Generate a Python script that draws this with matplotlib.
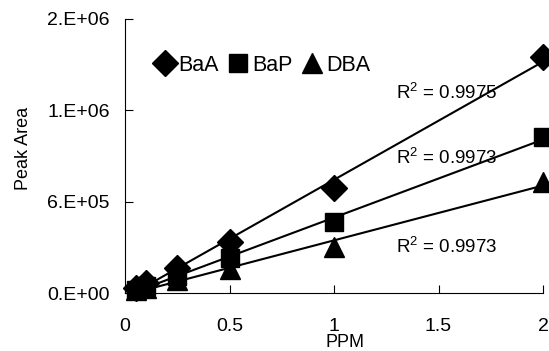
import matplotlib.pyplot as plt
import numpy as np

plt.rcParams['font.family'] = ['Liberation Sans', 'DejaVu Sans']
plt.rcParams['mathtext.default'] = 'regular'

ppm = [0.05, 0.1, 0.25, 0.5, 1.0, 2.0]
baa = [3.3e4, 6.6e4, 1.64e5, 3.35e5, 6.9e5, 1.55e6]
bap = [2.3e4, 4.6e4, 1.12e5, 2.3e5, 4.66e5, 1.025e6]
dba = [1.7e4, 3.5e4, 8.5e4, 1.55e5, 3.0e5, 7.3e5]
r2_labels = ['R$^2$ = 0.9975', 'R$^2$ = 0.9973', 'R$^2$ = 0.9973']

y_ticks = [0, 6e5, 1.2e6, 1.8e6]
y_ticklabels = ['0.E+00', '6.E+05', '1.E+06', '2.E+06']
x_ticks = [0, 0.5, 1, 1.5, 2]
x_ticklabels = ['0', '0.5', '1', '1.5', '2']


def main():
    fig = plt.figure(figsize=(5.49, 3.51), dpi=100)
    ax = fig.add_axes([0.228, 0.165, 0.761, 0.781])

    series = [('BaA', baa, 'D', 13), ('BaP', bap, 's', 13), ('DBA', dba, '^', 15)]
    x = np.array(ppm)
    xs = np.linspace(0.05, 2.0, 10)
    for name, vals, mk, ms in series:
        ax.plot(x, vals, linestyle='none', marker=mk, markersize=ms,
                color='black', label=name, clip_on=False, zorder=3)
        k, b = np.polyfit(x, vals, 1)
        ax.plot(xs, k * xs + b, color='black', linewidth=1.5, zorder=2)

    ax.text(1.297, 1.314e6, r2_labels[0], fontsize=13.5, va='center')
    ax.text(1.297, 8.87e5, r2_labels[1], fontsize=13.5, va='center')
    ax.text(1.297, 3.02e5, r2_labels[2], fontsize=13.5, va='center')

    ax.set_xlim(0, 2)
    ax.set_ylim(0, 1.8e6)
    ax.set_xticks(x_ticks)
    ax.set_xticklabels(x_ticklabels)
    ax.set_yticks(y_ticks)
    ax.set_yticklabels(y_ticklabels)
    ax.tick_params(direction='in', length=6, labelsize=14, pad=18)
    ax.tick_params(axis='y', pad=11)
    for s in ['top', 'right']:
        ax.spines[s].set_visible(False)

    ax.set_xlabel('PPM', fontsize=13)
    ax.xaxis.set_label_coords(0.526, -0.148)
    ax.set_ylabel('Peak Area', fontsize=13)
    ax.yaxis.set_label_coords(-0.222, 0.526)

    ax.legend(loc='center left', bbox_to_anchor=(0.048, 0.832), ncol=3, frameon=False,
              fontsize=15.5, handlelength=1.0, handletextpad=0.15,
              columnspacing=0.4, borderaxespad=0)

    plt.savefig('out.png')


if __name__ == '__main__':
    main()
